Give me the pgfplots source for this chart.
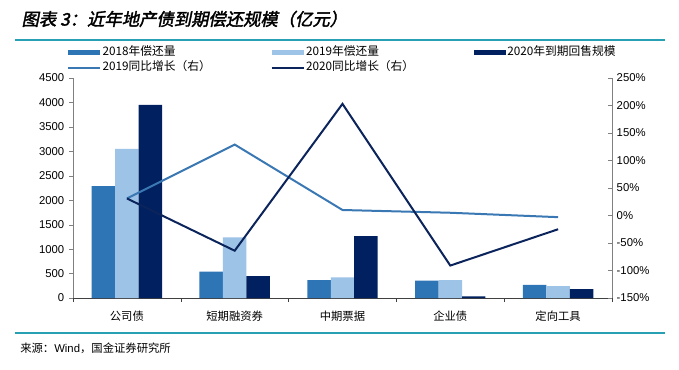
\documentclass[border=0pt]{standalone}
\usepackage{pgfplots}
\pgfplotsset{compat=1.18}
\usepackage{fontspec}
\setmainfont{Liberation Sans}
\newfontfamily\cjk{Noto Sans CJK SC}
\newfontfamily\cjktitle[FakeSlant=0.2,FakeBold=2]{Noto Sans CJK SC}
\definecolor{cA}{RGB}{46,117,182}
\definecolor{cB}{RGB}{157,195,230}
\definecolor{cC}{RGB}{0,32,96}
\definecolor{lA}{RGB}{58,120,180}
\definecolor{lB}{RGB}{12,36,92}
\definecolor{teal1}{RGB}{40,160,180}
\begin{document}
\begin{tikzpicture}
\path[use as bounding box] (0,0) rectangle (509.25pt,276.75pt);
\draw[teal1, line width=1.1pt] (11.25pt,246.75pt) -- (498.75pt,246.75pt);
\draw[teal1, line width=1.1pt] (11.25pt,27pt) -- (498.75pt,27pt);
\node[anchor=west, inner sep=0] at (16pt,262.5pt) {\cjktitle\fontsize{13pt}{15pt}\selectfont 图表 3：近年地产债到期偿还规模（亿元）};
\node[anchor=west, inner sep=0] at (15pt,15.75pt) {\fontsize{8.5pt}{10pt}\selectfont{\cjk 来源：}Wind{\cjk ，国金证券研究所}};
\begin{axis}[
  at={(54.75pt,53.25pt)}, anchor=south west, scale only axis,
  width=404.25pt, height=165pt,
  xmin=-0.5, xmax=4.5, ymin=0, ymax=4500,
  ytick={0,500,...,4500},
  axis x line*=bottom, axis y line*=left,
  x axis line style={black!75, line width=0.6pt},
  y axis line style={gray, line width=0.6pt},
  tick align=outside,
  ytick style={gray},
  major tick length=3pt,
  xtick={0,1,2,3,4},
  xticklabels={公司债,短期融资券,中期票据,企业债,定向工具},
  major x tick style={draw=none},
  minor xtick={-0.5,0.5,1.5,2.5,3.5,4.5},
  minor x tick style={black!75},
  minor tick length=3pt,
  xticklabel style={font=\cjk\fontsize{8.5pt}{10pt}\selectfont, yshift=-3pt},
  yticklabel style={font=\fontsize{8.5pt}{10pt}\selectfont},
  /pgf/number format/assume math mode=true,
  /pgf/number format/1000 sep={},
  ybar=0pt, bar width=17.6pt,
  legend columns=3,
  legend style={at={(-0.011,1.152)}, anchor=north west, draw=none, fill=none,
    inner sep=0pt, row sep=0.5pt,
    nodes={inner sep=1pt, text height=7pt, text depth=2pt},
    font=\cjk\fontsize{8.8pt}{10pt}\selectfont},
  legend cell align=left,
]
\addplot[fill=cA, draw=none, legend image code/.code={\fill[cA] (0pt,-2pt) rectangle (24pt,2pt);}]
  coordinates {(0,2290) (1,538) (2,368) (3,354) (4,266)};
\addplot[fill=cB, draw=none, legend image code/.code={\fill[cB] (0pt,-2pt) rectangle (24pt,2pt);}]
  coordinates {(0,3053) (1,1241) (2,423) (3,368) (4,245)};
\addplot[fill=cC, draw=none, legend image code/.code={\fill[cC] (0pt,-2pt) rectangle (24pt,2pt);}]
  coordinates {(0,3953) (1,450) (2,1268) (3,35) (4,184)};
\addlegendimage{legend image code/.code={\draw[lA, line width=1.5pt] (0pt,0pt) -- (24pt,0pt);}}
\addlegendimage{legend image code/.code={\draw[lB, line width=1.5pt] (0pt,0pt) -- (24pt,0pt);}}
\legend{\makebox[125pt][l]{2018年偿还量},\makebox[125pt][l]{2019年偿还量},\makebox[80pt][l]{2020年到期回售规模},\makebox[125pt][l]{2019同比增长（右）},\makebox[125pt][l]{2020同比增长（右）}}
\end{axis}
\begin{axis}[
  at={(54.75pt,53.25pt)}, anchor=south west, scale only axis,
  width=404.25pt, height=165pt,
  xmin=-0.5, xmax=4.5, ymin=-150, ymax=250,
  ytick={-150,-100,...,250},
  axis x line=none, axis y line*=right,
  y axis line style={gray, line width=0.6pt},
  tick align=inside,
  ytick style={gray},
  major tick length=3pt,
  yticklabel={\pgfmathprintnumber{\tick}\%},
  yticklabel style={font=\fontsize{8.5pt}{10pt}\selectfont},
  /pgf/number format/assume math mode=true,
]
\addplot[lA, line width=1.5pt, sharp plot] coordinates {(0,31) (1,129) (2,10) (3,5) (4,-3)};
\addplot[lB, line width=1.5pt, sharp plot] coordinates {(0,31) (1,-64) (2,203) (3,-91) (4,-25)};
\end{axis}
\end{tikzpicture}
\end{document}
